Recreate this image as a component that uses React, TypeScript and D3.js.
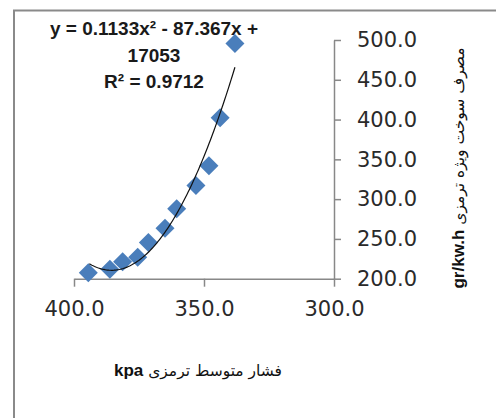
import { useEffect, useRef } from "react";
import * as d3 from "d3";

// فشار متوسط ترمزی (kpa) و مصرف سوخت ویژه ترمزی (gr/kw.h)
const pressure = [394.5, 386.2, 381.3, 375.5, 371.4, 365.0, 360.5, 353.1, 348.1, 343.8, 338.1];
const fuel = [207.6, 211.8, 221.4, 227.0, 245.4, 263.5, 287.9, 317.2, 342.0, 402.2, 495.5];

const xTicks = [400, 350, 300];
const yTicks = [200, 250, 300, 350, 400, 450, 500];

// Polynomial trendline (order 2), as shown on the chart
const coefA = 0.1133;
const coefB = -87.367;
const coefC = 17053;
const eqLines = ["y = 0.1133x² - 87.367x +", "17053", "R² = 0.9712"];

const xTitleFa = "فشار متوسط ترمزی";
const xTitleUnit = "kpa";
const yTitleFa = "مصرف سوخت ویژه ترمزی";
const yTitleUnit = "gr/kw.h";

const App = () => {
	const svgRef = useRef<SVGSVGElement>(null);

	useEffect(() => {
		if (!svgRef.current) return;
		const svg = d3.select(svgRef.current);
		svg.selectAll("*").remove();

		const axisColor = "#888";
		const tickFont = "'DejaVu Sans', sans-serif";

		// cadre
		svg
			.append("rect")
			.attr("x", 14)
			.attr("y", 10.5)
			.attr("width", 600)
			.attr("height", 600)
			.attr("fill", "none")
			.attr("stroke", "#8a8a8a")
			.attr("stroke-width", 2);

		const x = d3.scaleLinear().domain([400, 300]).range([74, 334]);
		const y = d3.scaleLinear().domain([200, 500]).range([278.7, 40]);

		// axe X
		const gx = svg
			.append("g")
			.attr("transform", `translate(0, ${y(200)})`)
			.call(
				d3
					.axisBottom(x)
					.tickValues(xTicks)
					.tickSize(8)
					.tickSizeOuter(0)
					.tickPadding(29)
					.tickFormat(d3.format(".1f"))
			);
		gx.select(".domain").attr("stroke", axisColor).attr("stroke-width", 1.5);
		gx.selectAll(".tick line").attr("stroke", axisColor).attr("stroke-width", 1.5);
		gx.selectAll(".tick text")
			.attr("fill", "#2a2a2a")
			.attr("dy", 0)
			.style("font-family", tickFont)
			.style("font-size", "21px");

		// axe Y (à droite)
		const gy = svg
			.append("g")
			.attr("transform", `translate(${x(300)}, 0)`)
			.call(
				d3
					.axisRight(y)
					.tickValues(yTicks)
					.tickSize(7)
					.tickSizeOuter(0)
					.tickPadding(16)
					.tickFormat(d3.format(".1f"))
			);
		gy.select(".domain").attr("stroke", axisColor).attr("stroke-width", 1.5);
		gy.selectAll(".tick line").attr("stroke", axisColor).attr("stroke-width", 1.5);
		gy.selectAll(".tick text")
			.attr("fill", "#2a2a2a")
			.style("font-family", tickFont)
			.style("font-size", "21px");

		// points
		const points = pressure.map((p, i) => ({ p, f: fuel[i] }));
		const diamond = d3.symbol().type(d3.symbolSquare).size(180);
		svg
			.append("g")
			.selectAll("path")
			.data(points)
			.enter()
			.append("path")
			.attr("d", diamond)
			.attr("transform", (d) => `translate(${x(d.p)}, ${y(d.f)}) rotate(45)`)
			.attr("fill", "#4a7ebb");

		// courbe de tendance
		const [pMin, pMax] = d3.extent(pressure) as [number, number];
		const trend = d3.range(pMin, pMax + 0.01, 0.5).map((p) => ({
			p,
			f: coefA * p * p + coefB * p + coefC,
		}));
		const line = d3
			.line<{ p: number; f: number }>()
			.x((d) => x(d.p))
			.y((d) => y(d.f));
		svg
			.append("path")
			.datum(trend)
			.attr("d", line)
			.attr("fill", "none")
			.attr("stroke", "#111")
			.attr("stroke-width", 1.2);

		// équation
		const eq = svg
			.append("text")
			.attr("text-anchor", "middle")
			.attr("fill", "#1a1a1a")
			.style("font-family", "'Liberation Sans', Arial, sans-serif")
			.style("font-weight", "bold")
			.style("font-size", "19px");
		eqLines.forEach((t, i) => {
			eq.append("tspan")
				.attr("x", 154)
				.attr("y", 35 + i * 26.5)
				.text(t);
		});

		// titre axe X
		const xt = svg
			.append("text")
			.attr("x", 198)
			.attr("y", 376)
			.attr("text-anchor", "middle")
			.attr("fill", "#111")
			.style("font-family", tickFont)
			.style("font-size", "15.5px");
		xt.append("tspan")
			.style("font-family", "'Liberation Sans', Arial, sans-serif")
			.style("font-weight", "bold")
			.style("font-size", "17px")
			.text(xTitleUnit);
		xt.append("tspan").text(" " + xTitleFa);

		// titre axe Y
		const yt = svg
			.append("text")
			.attr("transform", `translate(464, 168) rotate(-90)`)
			.attr("text-anchor", "middle")
			.attr("fill", "#111")
			.style("font-family", tickFont)
			.style("font-size", "15.5px");
		yt.append("tspan")
			.style("font-family", "'Liberation Sans', Arial, sans-serif")
			.style("font-weight", "bold")
			.style("font-size", "17px")
			.text(yTitleUnit);
		yt.append("tspan").text(" " + yTitleFa);
	}, []);

	return (
		<svg
			ref={svgRef}
			width={496}
			height={418}
			style={{ position: "absolute", left: 0, top: 0, background: "#fff" }}
		></svg>
	);
};

export default App;
